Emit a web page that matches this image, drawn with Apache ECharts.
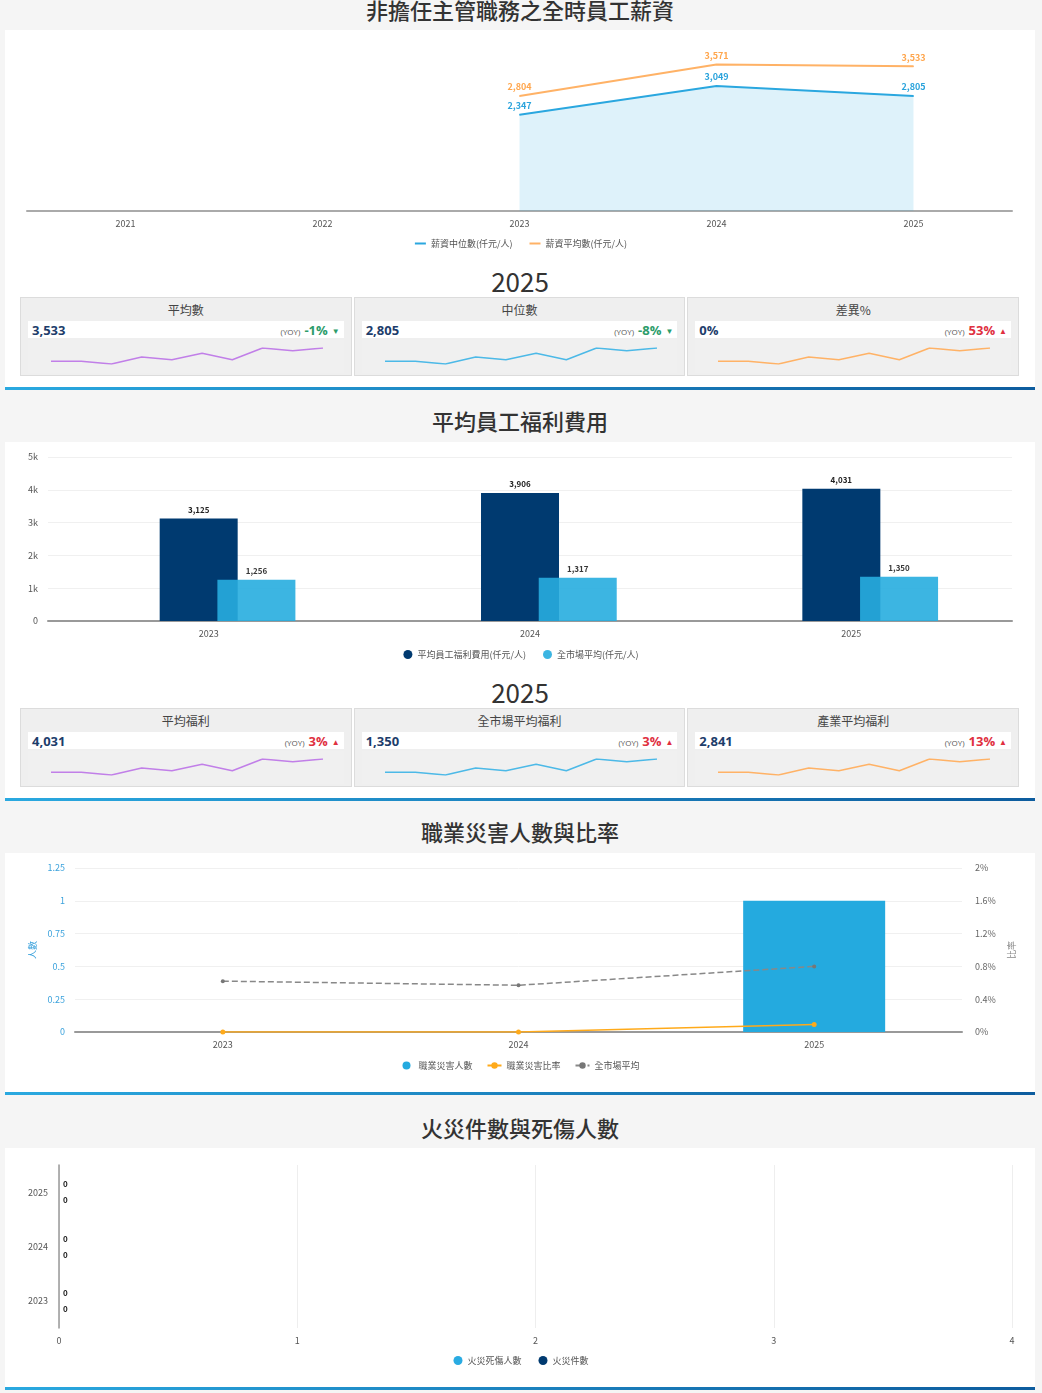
<!DOCTYPE html>
<html>
<head>
<meta charset="utf-8">
<script src="https://cdn.jsdelivr.net/npm/echarts@6/dist/echarts.min.js"></script>
<style>
body{margin:0;background:#f5f5f5;font-family:'Noto Sans CJK TC','Noto Sans',sans-serif;width:1042px;height:1393px;overflow:hidden;position:relative}
.title{position:absolute;left:5px;width:1030px;text-align:center;font-size:22px;font-weight:500;color:#333;line-height:30px}
.panel{position:absolute;left:5px;width:1030px;background:#fff}
.panel .bl{position:absolute;left:0;right:0;bottom:0;height:3px;background:linear-gradient(to right,#2aa9e0,#0d5c9e)}
.chart{position:absolute;left:0;width:1042px;height:230px}
.year{position:absolute;left:5px;width:1030px;text-align:center;font-size:26px;color:#333;line-height:30px}
.cards{position:absolute;left:20px;width:999px;height:79px;display:flex;gap:2px}
.card{flex:1 1 0;min-width:0;background:#efefef;border:1px solid #dcdcdc;position:relative;box-sizing:border-box}
.card .ct{position:absolute;left:0;right:0;top:3px;text-align:center;font-size:12px;color:#444;line-height:18px}
.card .vr{position:absolute;left:7px;right:7px;top:23px;height:17px;background:#fff;display:flex;align-items:center;justify-content:space-between;padding:0 4px;box-sizing:border-box}
.card .v{font-family:'Open Sans','Noto Sans',sans-serif;font-weight:700;font-size:13px;color:#1d3d6b}
.card .y{font-family:'Open Sans','Noto Sans',sans-serif;font-size:13px;font-weight:700}
.card .y small{font-size:8px;font-weight:400;color:#555;margin-right:4px}
.card .y i{font-style:normal;font-size:8px;margin-left:4px;vertical-align:1px}
.card .sp{position:absolute;left:7px;right:7px;top:42px;height:33px;background:#f0f0f0}
</style>
</head>
<body>
<script>
// ---------- data ----------
const salaryYears = ['2021','2022','2023','2024','2025'];
const salaryMedian = [null,null,2347,3049,2805];
const salaryMean = [null,null,2804,3571,3533];

const kpi1Titles = ['平均數','中位數','差異%'];
const kpi1Values = ['3,533','2,805','0%'];
const kpi1Yoy = [-1,-8,53];

const sparkPoints = [5,5,0,13,8,20,8,30,25,30];
const sparkColors = ['#c17fe8','#4cb9e7','#ffb266'];

const benefitYears = ['2023','2024','2025'];
const benefitAvg = [3125,3906,4031];
const benefitMarket = [1256,1317,1350];

const kpi2Titles = ['平均福利','全市場平均福利','產業平均福利'];
const kpi2Values = ['4,031','1,350','2,841'];
const kpi2Yoy = [3,3,13];

const injuryYears = ['2023','2024','2025'];
const injuryCount = [0,0,1];
const injuryRate = [0,0,0.09];
const injuryMarket = [0.62,0.57,0.80];

const fireYears = ['2023','2024','2025'];
const fireCasualties = [0,0,0];
const fireCases = [0,0,0];
</script>

<div class="title" style="top:-6px">非擔任主管職務之全時員工薪資</div>
<div class="panel" style="top:30px;height:360px"><div class="bl"></div></div>
<div class="year" style="top:266px">2025</div>
<div class="cards" id="cards1" style="top:297px"></div>

<div class="title" style="top:405px">平均員工福利費用</div>
<div class="panel" style="top:442px;height:359px"><div class="bl"></div></div>
<div class="year" style="top:677px">2025</div>
<div class="cards" id="cards2" style="top:708px"></div>

<div class="title" style="top:816px">職業災害人數與比率</div>
<div class="panel" style="top:853px;height:242px"><div class="bl"></div></div>

<div class="title" style="top:1112px">火災件數與死傷人數</div>
<div class="panel" style="top:1148px;height:242px"><div class="bl"></div></div>

<div class="chart" id="c1" style="top:30px"></div>
<div class="chart" id="c2" style="top:442px"></div>
<div class="chart" id="c3" style="top:853px"></div>
<div class="chart" id="c4" style="top:1148px"></div>

<script>
const FONT = "'Noto Sans CJK TC','Noto Sans',sans-serif";
const fmt = v => Number(v).toLocaleString('en-US');

function buildCards(id, titles, values, yoy) {
  const box = document.getElementById(id);
  const spDivs = [];
  titles.forEach((t, i) => {
    const up = yoy[i] >= 0;
    const col = up ? '#e0303f' : '#2c9c6a';
    const card = document.createElement('div');
    card.className = 'card';
    card.innerHTML = '<div class="ct">' + t + '</div>' +
      '<div class="vr"><span class="v">' + values[i] + '</span>' +
      '<span class="y" style="color:' + col + '"><small>(YOY)</small>' + yoy[i] + '%<i>' + (up ? '▲' : '▼') + '</i></span></div>' +
      '<div class="sp"></div>';
    box.appendChild(card);
    spDivs.push(card.querySelector('.sp'));
  });
  spDivs.forEach((el, i) => {
    const sp = echarts.init(el);
    sp.setOption({
      animation: false,
      grid: {left: 23, right: 21, top: 8, bottom: 9},
      xAxis: {type: 'category', show: false, boundaryGap: false, data: sparkPoints.map((_, k) => k)},
      yAxis: {type: 'value', show: false, min: 0, max: 30},
      series: [{type: 'line', data: sparkPoints, symbol: 'none', lineStyle: {color: sparkColors[i], width: 1.5}}]
    });
  });
}
buildCards('cards1', kpi1Titles, kpi1Values, kpi1Yoy);
buildCards('cards2', kpi2Titles, kpi2Values, kpi2Yoy);

// ---------- chart 1: salary ----------
const c1 = echarts.init(document.getElementById('c1'));
c1.setOption({
  animation: false,
  textStyle: {fontFamily: FONT},
  grid: {left: 27, right: 30, top: 17, height: 164},
  legend: {top: 209, padding: 0, itemWidth: 11, itemHeight: 2, itemGap: 17, icon: 'rect',
    textStyle: {fontSize: 9, color: '#555'},
    data: ['薪資中位數(仟元/人)', '薪資平均數(仟元/人)']},
  xAxis: {type: 'category', data: salaryYears, boundaryGap: true,
    axisLine: {lineStyle: {color: '#aaa', width: 2}}, axisTick: {show: false},
    axisLabel: {fontSize: 9, color: '#555', margin: 8}},
  yAxis: {type: 'value', show: false, min: 0, max: 4000, splitLine: {show: false}},
  series: [
    {name: '薪資中位數(仟元/人)', type: 'line', data: salaryMedian, symbol: 'circle', symbolSize: 1,
      itemStyle: {color: '#2aa7df'}, lineStyle: {color: '#2aa7df', width: 2},
      areaStyle: {color: 'rgba(42,167,223,0.22)'},
      label: {show: true, position: 'top', distance: 4, fontSize: 9, fontWeight: 'bold', color: '#2aa3dc', formatter: p => fmt(p.value)}},
    {name: '薪資平均數(仟元/人)', type: 'line', data: salaryMean, symbol: 'circle', symbolSize: 1,
      itemStyle: {color: '#ffb266'}, lineStyle: {color: '#ffb266', width: 2},
      label: {show: true, position: 'top', distance: 4, fontSize: 9, fontWeight: 'bold', color: '#ffa64d', formatter: p => fmt(p.value)}}
  ]
});

// ---------- chart 2: benefits ----------
const c2 = echarts.init(document.getElementById('c2'));
const barLabel = {show: true, position: 'top', fontSize: 8, fontWeight: 'bold', color: '#222', formatter: p => fmt(p.value)};
c2.setOption({
  animation: false,
  textStyle: {fontFamily: FONT},
  grid: {left: 48, right: 30, top: 15, height: 164},
  legend: {top: 208, padding: 0, itemWidth: 9, itemHeight: 9, itemGap: 17, icon: 'circle',
    textStyle: {fontSize: 9, color: '#555'},
    data: ['平均員工福利費用(仟元/人)', '全市場平均(仟元/人)']},
  xAxis: {type: 'category', data: benefitYears,
    axisLine: {lineStyle: {color: '#999', width: 2}}, axisTick: {show: false},
    axisLabel: {fontSize: 9, color: '#555', margin: 8}},
  yAxis: {type: 'value', min: 0, max: 5000, interval: 1000,
    axisLabel: {fontSize: 9, color: '#555', margin: 10, formatter: v => v === 0 ? '0' : (v / 1000) + 'k'},
    splitLine: {lineStyle: {color: '#f0f0f0'}}},
  series: [
    {name: '_offset', type: 'bar', data: [], barWidth: 51, barGap: '-26%', silent: true},
    {name: '平均員工福利費用(仟元/人)', type: 'bar', data: benefitAvg, barWidth: 78, barGap: '-26%',
      itemStyle: {color: '#003a70'}, label: barLabel},
    {name: '全市場平均(仟元/人)', type: 'bar', data: benefitMarket, barWidth: 78, barGap: '-26%',
      itemStyle: {color: 'rgb(39,173,223)', opacity: 0.9}, label: barLabel}
  ]
});

// ---------- chart 3: injuries ----------
const c3 = echarts.init(document.getElementById('c3'));
c3.setOption({
  animation: false,
  textStyle: {fontFamily: FONT},
  grid: {left: 75, right: 80, top: 15, height: 164},
  legend: {top: 208, padding: 0, itemWidth: 14, itemHeight: 8, itemGap: 14,
    textStyle: {fontSize: 9, color: '#555'},
    data: [{name: '職業災害人數', icon: 'circle'}, {name: '職業災害比率'}, {name: '全市場平均'}]},
  xAxis: {type: 'category', data: injuryYears,
    axisLine: {lineStyle: {color: '#999', width: 2}}, axisTick: {show: false},
    axisLabel: {fontSize: 9, color: '#555', margin: 8}},
  yAxis: [
    {type: 'value', min: 0, max: 1.25, interval: 0.25, name: '人數', nameLocation: 'middle', nameGap: 38,
      nameTextStyle: {fontSize: 9, color: '#3ba2dc'},
      axisLabel: {fontSize: 9, color: '#3ba2dc', margin: 10},
      splitLine: {lineStyle: {color: '#f0f0f0'}}},
    {type: 'value', min: 0, max: 2, interval: 0.4, name: '比率', nameLocation: 'middle', nameGap: 40,
      nameTextStyle: {fontSize: 9, color: '#888'},
      axisLabel: {fontSize: 9, color: '#666', margin: 13, formatter: v => +v.toFixed(1) + '%'},
      splitLine: {show: false}}
  ],
  series: [
    {name: '職業災害人數', type: 'bar', data: injuryCount, barWidth: 142, itemStyle: {color: '#24aadf'}},
    {name: '職業災害比率', type: 'line', yAxisIndex: 1, data: injuryRate, symbol: 'circle', symbolSize: 5,
      itemStyle: {color: '#ffaa1a'}, lineStyle: {color: '#ffaa1a', width: 1.5}},
    {name: '全市場平均', type: 'line', yAxisIndex: 1, data: injuryMarket, symbol: 'circle', symbolSize: 4,
      itemStyle: {color: '#777'}, lineStyle: {color: '#888', width: 1.5, type: 'dashed'}}
  ]
});

// ---------- chart 4: fire ----------
const c4 = echarts.init(document.getElementById('c4'));
const fireLabel = {show: true, position: 'right', distance: 4, fontSize: 8, fontWeight: 'bold', color: '#222'};
c4.setOption({
  animation: false,
  textStyle: {fontFamily: FONT},
  grid: {left: 59, right: 30, top: 17, height: 163},
  legend: {top: 208, padding: 0, itemWidth: 9, itemHeight: 9, itemGap: 17, icon: 'circle',
    textStyle: {fontSize: 9, color: '#555'},
    data: ['火災死傷人數', '火災件數']},
  xAxis: {type: 'value', min: 0, max: 4, interval: 1,
    axisLabel: {fontSize: 9, color: '#555', margin: 8},
    splitLine: {lineStyle: {color: '#eee'}}},
  yAxis: {type: 'category', data: fireYears,
    axisLine: {show: true, lineStyle: {color: '#999', width: 1.5}}, axisTick: {show: false},
    axisLabel: {fontSize: 9, color: '#555', margin: 11}},
  series: [
    {name: '火災死傷人數', type: 'bar', data: fireCasualties, barWidth: 12, barGap: '33%',
      itemStyle: {color: '#29abe2'}, label: fireLabel},
    {name: '火災件數', type: 'bar', data: fireCases, barWidth: 12, barGap: '33%',
      itemStyle: {color: '#003a70'}, label: fireLabel}
  ]
});
</script>
</body>
</html>
